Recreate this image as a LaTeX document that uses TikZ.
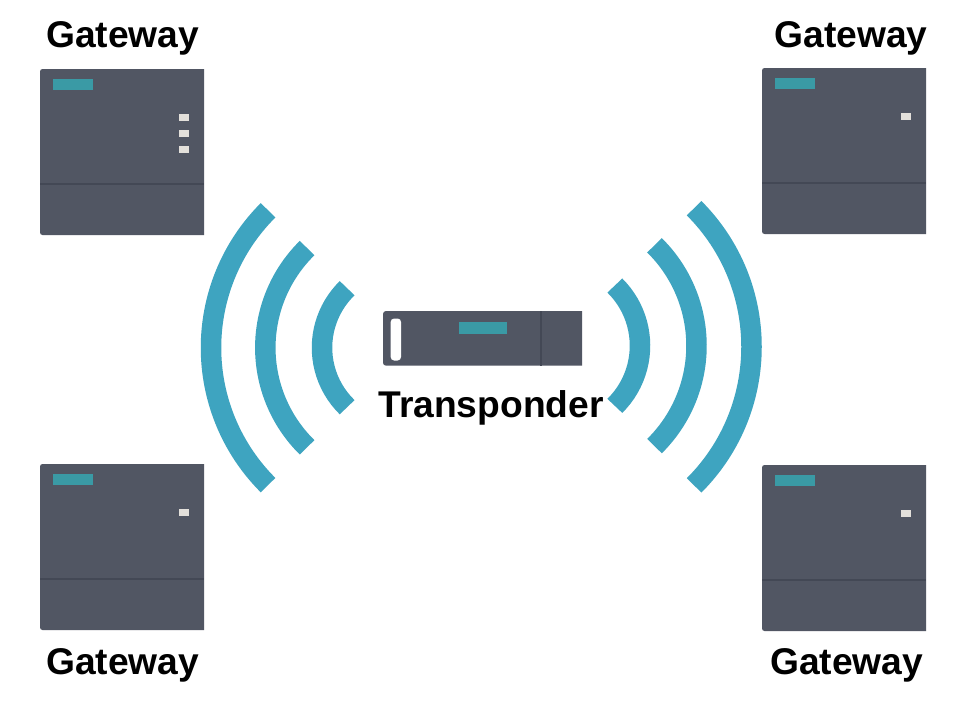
\documentclass[tikz,border=0pt]{standalone}
\usepackage{fontspec}
\setmainfont{Liberation Sans}
\definecolor{boxgrey}{HTML}{515663}
\definecolor{boxline}{HTML}{434855}
\definecolor{tealbar}{HTML}{3A9AA5}
\definecolor{wavecol}{HTML}{3EA4C0}
\definecolor{ledcol}{HTML}{E3E0DB}
\tikzset{
  label text/.style={font=\fontsize{37.2}{40}\selectfont\bfseries, text=black, anchor=base, inner sep=0pt},
  waveL/.style={draw=wavecol, line width=#1, line cap=butt},
  waveL/.default=20.5pt
}
% #1 x-left, #2 y-top
\newcommand{\gatewaybox}[2]{%
  \fill[boxgrey, rounded corners=2.5pt] (#1+6,#2) -- (#1,#2) -- (#1,#2+166) -- (#1+6,#2+166) [sharp corners] -- (#1+164,#2+166) -- (#1+164,#2) -- cycle;
  \draw[boxline, line width=1.4pt] (#1,#2+115) -- (#1+164,#2+115);
  \fill[tealbar] (#1+13,#2+9.5) rectangle (#1+52.5,#2+20.5);
}
\newcommand{\ledmark}[2]{\fill[ledcol] (#1,#2) rectangle (#1+10,#2+7);}
\begin{document}
\begin{tikzpicture}[x=1pt,y=-1pt]
\useasboundingbox (0,0) rectangle (963,707);
\fill[white] (0,0) rectangle (963,707);

% Gateways
\gatewaybox{40}{69}
\ledmark{179}{114}\ledmark{179}{130}\ledmark{179}{146}
\gatewaybox{762}{68}
\ledmark{901}{113}
\gatewaybox{40}{464}
\ledmark{179}{509}
\gatewaybox{762}{465}
\ledmark{901}{510}

% Transponder
\fill[boxgrey, rounded corners=3pt] (390,311) -- (383,311) -- (383,365.7) -- (390,365.7) [sharp corners] -- (582,365.7) -- (582,311) -- cycle;
\draw[boxline, line width=1.2pt] (541,311) -- (541,365.7);
\fill[tealbar] (459,321.5) rectangle (507,334);
\fill[white, rounded corners=3.4pt] (390.7,318.5) rectangle (401,360.5);

% Left waves
\coordinate (cl) at (405,347.7);
\draw[waveL] (cl) ++(134.9:194pt) arc[start angle=134.9, end angle=225.1, radius=194pt];
\draw[waveL] (cl) ++(134.5:139.7pt) arc[start angle=134.5, end angle=225.5, radius=139.7pt];
\draw[waveL] (cl) ++(134.2:83pt) arc[start angle=134.2, end angle=225.8, radius=83pt];

% Right waves
\coordinate (cr) at (555.5,345.7);
\coordinate (crb) at (555.5,346.8);
\draw[waveL] (crb) ++(45:196pt) arc[start angle=45, delta angle=-90, radius=196pt];
\draw[waveL] (cr) ++(45.4:141pt) arc[start angle=45.4, end angle=-45.4, radius=141pt];
\draw[waveL] (cr) ++(45.4:84.5pt) arc[start angle=45.4, end angle=-45.4, radius=84.5pt];

% Labels
\node[label text] (g1) at (122.7,47.5) {Gateway};
\node[label text] (g2) at (851,47.5) {Gateway};
\node[label text] (g3) at (122.7,674.5) {Gateway};
\node[label text] (g4) at (846.7,674.5) {Gateway};
\node[label text] (tr) at (491,417.5) {Transponder};
\end{tikzpicture}
\end{document}
